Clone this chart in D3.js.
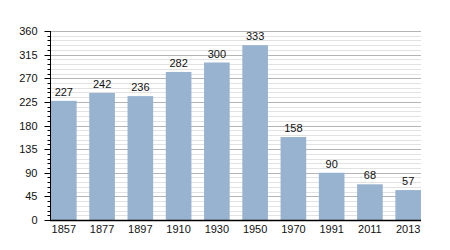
<!DOCTYPE html>
<html>
<head>
<meta charset="utf-8">
<script src="https://cdn.jsdelivr.net/npm/d3@7"></script>
<style>
body { margin: 0; background: #fff; }
text { font-family: "Liberation Sans", Arial, sans-serif; }
</style>
</head>
<body>
<div id="viz"></div>
<script>
// data
let years = ['1857', '1877', '1897', '1910', '1930', '1950', '1970', '1991', '2011', '2013']
let population = [227, 242, 236, 282, 300, 333, 158, 90, 68, 57]
let majorTicks = [0, 45, 90, 135, 180, 225, 270, 315, 360]
let minorTicks = d3.range(0, 361, 9)

let width = 450, height = 250

let svg = d3.select('#viz')
			.append('svg')
			.attr('width', width)
			.attr('height', height)

let x = d3.scaleBand()
			.domain(years)
			.range([51, 421])
			.paddingInner(0.33)
			.paddingOuter(0)

let y = d3.scaleLinear()
			.domain([0, 360])
			.range([220, 31])

//gridlines - minor first, then major
svg.append('g')
	.selectAll('line')
	.data(minorTicks.filter(d => d % 45 !== 0))
	.enter()
	.append('line')
	.attr('x1', 50)
	.attr('x2', 421)
	.attr('y1', d => Math.round(y(d)) + 0.5)
	.attr('y2', d => Math.round(y(d)) + 0.5)
	.attr('stroke', '#e2e2e2')

svg.append('g')
	.selectAll('line')
	.data(majorTicks.filter(d => d > 0))
	.enter()
	.append('line')
	.attr('x1', 50)
	.attr('x2', 421)
	.attr('y1', d => Math.round(y(d)) + 0.5)
	.attr('y2', d => Math.round(y(d)) + 0.5)
	.attr('stroke', '#b4b4b4')

//bars
svg.append('g')
	.selectAll('rect')
	.data(population)
	.enter()
	.append('rect')
	.attr('x', (d, i) => x(years[i]))
	.attr('y', d => y(d))
	.attr('width', x.bandwidth())
	.attr('height', d => y(0) - y(d))
	.attr('fill', '#98b3cf')

//value labels
svg.append('g')
	.selectAll('text')
	.data(population)
	.enter()
	.append('text')
	.attr('x', (d, i) => x(years[i]) + x.bandwidth() / 2)
	.attr('y', d => y(d) - 5)
	.attr('text-anchor', 'middle')
	.attr('font-size', 11)
	.attr('fill', '#111')
	.text(d => d)

//y axis with minor ticks
let yAxis = svg.append('g')
				.attr('transform', 'translate(50.5,0)')

yAxis.selectAll('line.minor')
	.data(minorTicks)
	.enter()
	.append('line')
	.attr('class', 'minor')
	.attr('x1', -3)
	.attr('x2', 0)
	.attr('y1', d => Math.round(y(d)) + 0.5)
	.attr('y2', d => Math.round(y(d)) + 0.5)
	.attr('stroke', '#000')

yAxis.selectAll('line.major')
	.data(majorTicks)
	.enter()
	.append('line')
	.attr('class', 'major')
	.attr('x1', -6)
	.attr('x2', 0)
	.attr('y1', d => Math.round(y(d)) + 0.5)
	.attr('y2', d => Math.round(y(d)) + 0.5)
	.attr('stroke', '#000')

yAxis.append('line')
	.attr('y1', y(360))
	.attr('y2', y(0))
	.attr('stroke', '#000')

yAxis.selectAll('text')
	.data(majorTicks)
	.enter()
	.append('text')
	.attr('x', -13)
	.attr('y', d => y(d) + 4)
	.attr('text-anchor', 'end')
	.attr('font-size', 11)
	.attr('fill', '#111')
	.text(d => d)

//x axis
svg.append('line')
	.attr('x1', 50)
	.attr('x2', 421)
	.attr('y1', y(0) + 0.5)
	.attr('y2', y(0) + 0.5)
	.attr('stroke', '#000')
	.attr('stroke-width', 1.5)

svg.append('g')
	.selectAll('text')
	.data(years)
	.enter()
	.append('text')
	.attr('x', d => x(d) + x.bandwidth() / 2)
	.attr('y', 232.5)
	.attr('text-anchor', 'middle')
	.attr('font-size', 11)
	.attr('fill', '#111')
	.text(d => d)
</script>
</body>
</html>
